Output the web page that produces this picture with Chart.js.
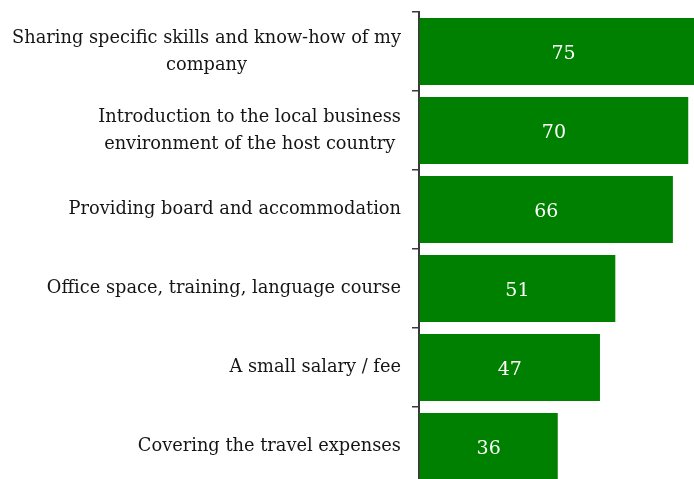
<!DOCTYPE html>
<html>
<head>
<meta charset="utf-8">
<script src="https://cdn.jsdelivr.net/npm/chart.js@4"></script>
<style>
  html, body { margin: 0; padding: 0; overflow: hidden; background: #fff; }
  #wrap { width: 694px; height: 486px; position: relative; }
</style>
</head>
<body>
<div id="wrap"><canvas id="supportChart"></canvas></div>
<script>
// category names (multi-line ones as arrays), values in percent
const categories = [
  ['Sharing specific skills and know-how of my', 'company'],
  ['Introduction to the local business', 'environment of the host country'],
  'Providing board and accommodation',
  'Office space, training, language course',
  'A small salary / fee',
  'Covering the travel expenses'
];
const shares = [75, 70, 66, 51, 47, 36];

const serif = '"DejaVu Serif", "Liberation Serif", serif';
const axisColor = '#3a3a3a';

// y labels: single lines right-aligned, wrapped lines centred on each other
const categoryLabels = {
  id: 'categoryLabels',
  afterDraw(chart) {
    const scale = chart.scales.y;
    const ctx = chart.ctx;
    ctx.save();
    ctx.font = '17.8px ' + serif;
    ctx.fillStyle = '#151515';
    ctx.textBaseline = 'middle';
    ctx.textAlign = 'center';
    const right = scale.right - 18;
    categories.forEach((label, i) => {
      const lines = [].concat(label);
      const y = scale.getPixelForValue(i);
      const widest = Math.max(...lines.map(l => ctx.measureText(l).width));
      const cx = right - widest / 2;
      lines.forEach((line, j) => {
        ctx.fillText(line, cx, y + (j - (lines.length - 1) / 2) * 27);
      });
    });
    ctx.restore();
  }
};

// value printed in the middle of each bar
const valueLabels = {
  id: 'valueLabels',
  afterDatasetsDraw(chart) {
    const ctx = chart.ctx;
    const meta = chart.getDatasetMeta(0);
    ctx.save();
    ctx.font = '19px ' + serif;
    ctx.fillStyle = '#ffffff';
    ctx.textAlign = 'center';
    ctx.textBaseline = 'middle';
    meta.data.forEach((bar, i) => {
      const p = bar.getCenterPoint();
      ctx.fillText(String(shares[i]), p.x, p.y + 3);
    });
    ctx.restore();
  }
};

new Chart(document.getElementById('supportChart'), {
  type: 'bar',
  data: {
    labels: categories,
    datasets: [{
      data: shares,
      backgroundColor: '#008000',
      borderWidth: 0,
      categoryPercentage: 1,
      barPercentage: 0.85
    }]
  },
  options: {
    indexAxis: 'y',
    responsive: true,
    maintainAspectRatio: false,
    animation: false,
    layout: { padding: { top: 12, right: 0, bottom: 0, left: 0 } },
    plugins: {
      legend: { display: false },
      tooltip: { enabled: false }
    },
    scales: {
      x: { display: false, min: -0.15, max: 71.5 },
      y: {
        border: { display: true, color: axisColor, width: 2 },
        grid: {
          offset: true,
          drawOnChartArea: false,
          drawTicks: true,
          tickLength: 7,
          color: axisColor,
          lineWidth: 1.5
        },
        ticks: { display: false },
        afterFit(scale) { scale.width = 419; }
      }
    }
  },
  plugins: [categoryLabels, valueLabels]
});
</script>
</body>
</html>
